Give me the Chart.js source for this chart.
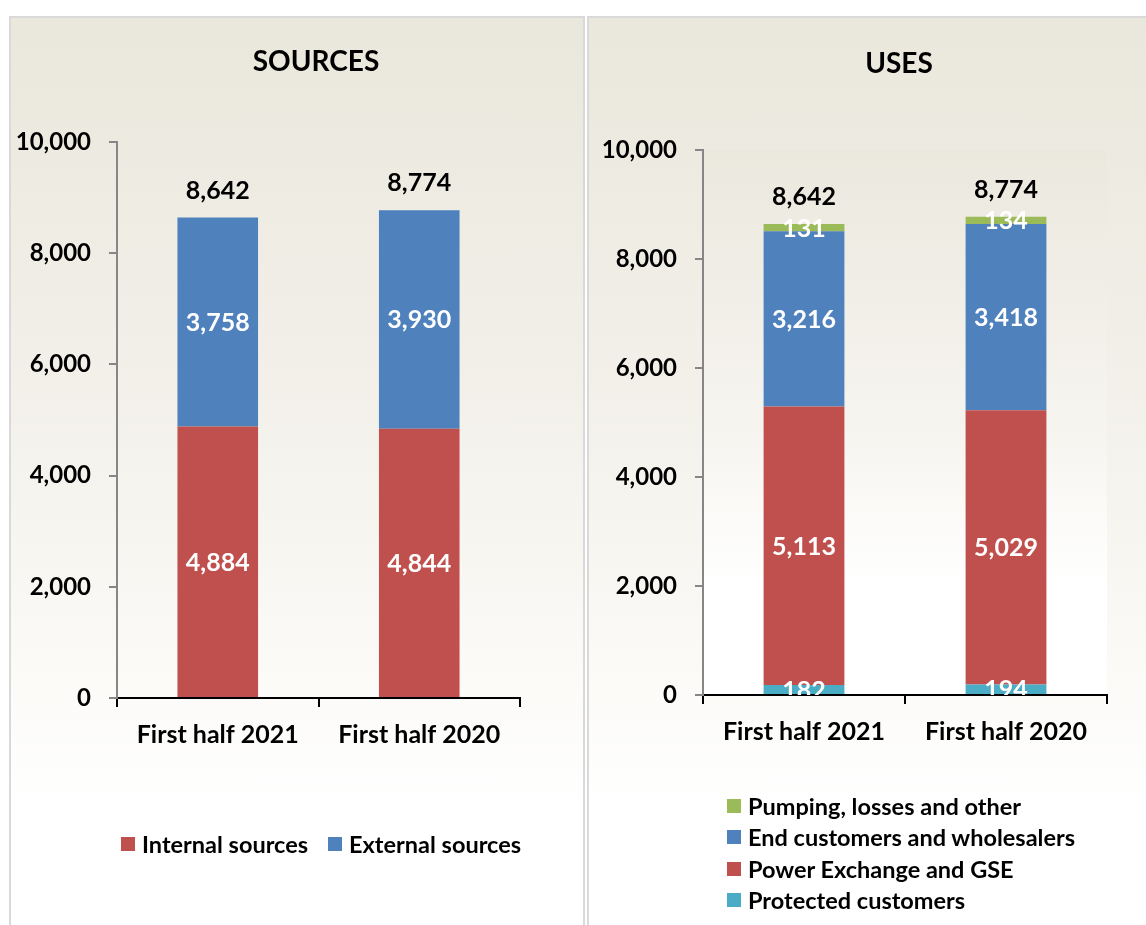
<!DOCTYPE html>
<html>
<head>
<meta charset="utf-8">
<script src="https://cdn.jsdelivr.net/npm/chart.js@4.4.1/dist/chart.umd.min.js"></script>
<style>
  html, body { margin: 0; padding: 0; background: #fff; }
  body { width: 1146px; height: 925px; position: relative; overflow: hidden; font-family: Lato, "Open Sans", sans-serif; font-weight: bold; }
  .panel { position: absolute; top: 16px; height: 930px; border: 2px solid #d9d9d9; box-sizing: border-box;
    background: linear-gradient(to bottom, #eae7dc 0%, #f2f0e9 40%, #fbfaf7 70%, #ffffff 85%); }
  .wrap { position: absolute; top: 0; height: 925px; }
  .title { position: absolute; font-size: 28px; color: #000; transform: translate(-50%, -50%); white-space: nowrap; }
  .legend { position: absolute; font-size: 23.5px; color: #000; white-space: nowrap; }
  .legend .item { display: flex; align-items: center; height: 31.5px; }
  .legend .sw { width: 14px; height: 14px; margin-right: 7px; display: inline-block; }
</style>
</head>
<body>
<div class="panel" style="left:9px; width:576px;"></div>
<div class="panel" style="left:587px; width:580px;"></div>

<div class="wrap" style="left:0; width:584px;"><canvas id="srcChart"></canvas></div>
<div class="wrap" style="left:587px; width:559px;"><canvas id="useChart"></canvas></div>

<div class="title" style="left:316px; top:60px;">SOURCES</div>
<div class="title" style="left:899px; top:62px;">USES</div>

<div class="legend" id="srcLegend" style="left:121px; top:828px; display:flex; gap:20px;"></div>
<div class="legend" id="useLegend" style="left:727px; top:790px;"></div>

<script>
// categories
const periods = ['First half 2021', 'First half 2020'];

// sources (left)
const internalSources = [4884, 4844];
const externalSources = [3758, 3930];
const sourceTotals = [8642, 8774];

// uses (right)
const protectedCustomers = [182, 194];
const powerExchangeGSE = [5113, 5029];
const endCustomers = [3216, 3418];
const pumpingLosses = [131, 134];
const useTotals = [8642, 8774];

const RED = '#C0504D', BLUE = '#4F81BD', GREEN = '#9BBB59', TEAL = '#4BACC6';
const FONT = 'Lato, "Open Sans", sans-serif';

const fmt = v => v.toLocaleString('en-US');

// value labels inside bars, totals above
const labelPlugin = {
  id: 'barLabels',
  afterDatasetsDraw(chart, args, opts) {
    const ctx = chart.ctx;
    const area = chart.chartArea;
    ctx.save();
    ctx.beginPath();
    ctx.rect(area.left, 0, area.right - area.left, area.bottom);
    ctx.clip();
    ctx.textAlign = 'center';
    ctx.textBaseline = 'middle';
    ctx.font = 'bold 25px ' + FONT;
    ctx.fillStyle = '#fff';
    chart.data.datasets.forEach((ds, di) => {
      const meta = chart.getDatasetMeta(di);
      meta.data.forEach((bar, i) => {
        const y = (bar.y + bar.base) / 2;
        ctx.fillText(fmt(ds.data[i]), bar.x, y + 1);
      });
    });
    // totals
    ctx.fillStyle = '#000';
    const last = chart.getDatasetMeta(chart.data.datasets.length - 1);
    last.data.forEach((bar, i) => {
      ctx.fillText(fmt(opts.totals[i]), bar.x, bar.y - 27);
    });
    ctx.restore();
  }
};

// light plot area background
const plotBg = {
  id: 'plotBg',
  beforeDraw(chart, args, opts) {
    if (!opts.on) return;
    const a = chart.chartArea, ctx = chart.ctx;
    const g = ctx.createLinearGradient(0, a.top, 0, a.bottom);
    g.addColorStop(0, '#ebe8de');
    g.addColorStop(0.5, '#f6f4ef');
    g.addColorStop(0.8, '#ffffff');
    g.addColorStop(1, '#ffffff');
    ctx.save();
    ctx.fillStyle = g;
    ctx.fillRect(a.left, a.top, a.right - a.left, a.bottom - a.top);
    ctx.restore();
  }
};

function makeOptions(yWidth, padding, totals, bg) {
  return {
    responsive: false,
    animation: false,
    layout: { padding: padding },
    plugins: {
      legend: { display: false },
      tooltip: { enabled: false },
      barLabels: { totals: totals },
      plotBg: { on: bg }
    },
    scales: {
      x: {
        stacked: true,
        grid: { offset: true, drawOnChartArea: false, tickLength: 9, color: '#000', lineWidth: 2 },
        border: { color: '#000', width: 2 },
        ticks: { color: '#000', font: { family: FONT, size: 25, weight: 'bold' }, padding: 13 },
        afterFit(axis) { axis.height = 60; }
      },
      y: {
        stacked: true,
        min: 0, max: 10000,
        grid: { drawOnChartArea: false, tickLength: 8, color: '#868686', lineWidth: 2 },
        border: { color: '#868686', width: 2 },
        ticks: { stepSize: 2000, color: '#000', padding: 18,
          font: { family: FONT, size: 24, weight: 'bold' },
          callback: v => fmt(v) },
        afterFit(axis) { axis.width = yWidth; }
      }
    }
  };
}

function buildSrc() {
  const c = document.getElementById('srcChart');
  c.width = 584; c.height = 925;
  new Chart(c, {
    type: 'bar',
    data: {
      labels: periods,
      datasets: [
        { label: 'Internal sources', data: internalSources, backgroundColor: RED, categoryPercentage: 1, barPercentage: 0.4 },
        { label: 'External sources', data: externalSources, backgroundColor: BLUE, categoryPercentage: 1, barPercentage: 0.4 }
      ]
    },
    options: makeOptions(117, { left: 0, top: 142, right: 64, bottom: 925 - 698 - 60 }, sourceTotals, false),
    plugins: [labelPlugin, plotBg]
  });
}

function buildUse() {
  const c = document.getElementById('useChart');
  c.width = 559; c.height = 925;
  new Chart(c, {
    type: 'bar',
    data: {
      labels: periods,
      datasets: [
        { label: 'Protected customers', data: protectedCustomers, backgroundColor: TEAL, categoryPercentage: 1, barPercentage: 0.4 },
        { label: 'Power Exchange and GSE', data: powerExchangeGSE, backgroundColor: RED, categoryPercentage: 1, barPercentage: 0.4 },
        { label: 'End customers and wholesalers', data: endCustomers, backgroundColor: BLUE, categoryPercentage: 1, barPercentage: 0.4 },
        { label: 'Pumping, losses and other', data: pumpingLosses, backgroundColor: GREEN, categoryPercentage: 1, barPercentage: 0.4 }
      ]
    },
    options: makeOptions(116, { left: 0, top: 150, right: 559 - 520, bottom: 925 - 695 - 60 }, useTotals, true),
    plugins: [labelPlugin, plotBg]
  });
}

function legendItem(text, color) {
  const d = document.createElement('div');
  d.className = 'item';
  d.innerHTML = '<span class="sw" style="background:' + color + '"></span>' + text;
  return d;
}

buildSrc();
buildUse();

const srcLeg = document.getElementById('srcLegend');
srcLeg.appendChild(legendItem('Internal sources', RED));
srcLeg.appendChild(legendItem('External sources', BLUE));

const useLeg = document.getElementById('useLegend');
useLeg.appendChild(legendItem('Pumping, losses and other', GREEN));
useLeg.appendChild(legendItem('End customers and wholesalers', BLUE));
useLeg.appendChild(legendItem('Power Exchange and GSE', RED));
useLeg.appendChild(legendItem('Protected customers', TEAL));
</script>
</body>
</html>
